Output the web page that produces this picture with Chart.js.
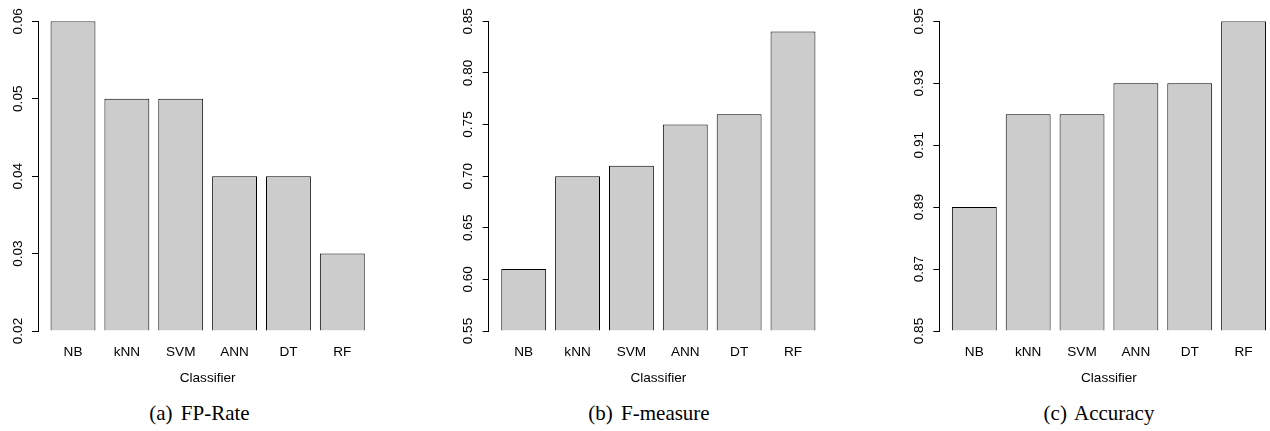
<!DOCTYPE html>
<html>
<head>
<meta charset="utf-8">
<script src="https://cdn.jsdelivr.net/npm/chart.js@4.4.1/dist/chart.umd.min.js"></script>
<style>
  html, body { margin:0; padding:0; background:#fff; overflow:hidden; width:1270px; height:431px; }
  .panel { position:absolute; top:0; width:400px; height:400px; }
  .cap { position:absolute; top:403px; font-family:"Liberation Serif","Times New Roman",serif; font-size:21px; line-height:1; color:#000; white-space:nowrap; transform:translateX(-50%); word-spacing:3px; }
</style>
</head>
<body>
<div class="panel" style="left:0px"><canvas id="ca" width="400" height="400"></canvas></div>
<div class="panel" style="left:450px"><canvas id="cb" width="400" height="400"></canvas></div>
<div class="panel" style="left:901px"><canvas id="cc" width="400" height="400"></canvas></div>
<div class="cap" id="capA" style="left:199.5px"></div>
<div class="cap" id="capB" style="left:649px"></div>
<div class="cap" id="capC" style="left:1099px"></div>
<script>
// ---- data ----
const categories = ["NB", "kNN", "SVM", "ANN", "DT", "RF"];
const xTitle = "Classifier";

const fpRate   = [0.06, 0.05, 0.05, 0.04, 0.04, 0.03];
const fMeasure = [0.61, 0.70, 0.71, 0.75, 0.76, 0.84];
const accuracy = [0.89, 0.92, 0.92, 0.93, 0.93, 0.95];

const fpTicks       = [0.02, 0.03, 0.04, 0.05, 0.06];
const fpTickLabels  = ["0.02", "0.03", "0.04", "0.05", "0.06"];
const fmTicks       = [0.55, 0.60, 0.65, 0.70, 0.75, 0.80, 0.85];
const fmTickLabels  = ["0.55", "0.60", "0.65", "0.70", "0.75", "0.80", "0.85"];
const accTicks      = [0.85, 0.87, 0.89, 0.91, 0.93, 0.95];
const accTickLabels = ["0.85", "0.87", "0.89", "0.91", "0.93", "0.95"];

const captions = ["(a) FP-Rate", "(b) F-measure", "(c) Accuracy"];

// ---- drawing ----
const sansFont = { family: "'Liberation Sans', Arial, Helvetica, sans-serif", size: 13.6 };
const X_MIN = -0.65, X_MAX = 5.65;
const PLOT_W = 339.3;

function makeChart(id, values, ticks, tickLabels, axisWidth) {
  const ctx = document.getElementById(id);
  return new Chart(ctx, {
    type: 'bar',
    data: {
      datasets: [{
        data: values.map((v, i) => ({ x: i, y: v })),
        backgroundColor: '#cccccc',
        borderColor: '#000000',
        borderWidth: 1,
        borderSkipped: 'bottom',
        base: ticks[0],
        barPercentage: 0.8333,
        categoryPercentage: 1.0
      }]
    },
    options: {
      responsive: false,
      animation: false,
      devicePixelRatio: 1,
      layout: { padding: { top: 21.3, left: 0, bottom: 0, right: 400 - axisWidth - PLOT_W } },
      plugins: { legend: { display: false }, tooltip: { enabled: false } },
      scales: {
        x: {
          type: 'linear',
          offset: false,
          min: X_MIN, max: X_MAX,
          grid: { display: false, offset: false },
          border: { display: false },
          afterBuildTicks: s => { s.ticks = categories.map((_, i) => ({ value: i })); },
          ticks: {
            autoSkip: false, maxRotation: 0, minRotation: 0,
            padding: 5.5, color: '#000', font: sansFont,
            callback: v => categories[v]
          },
          title: { display: true, text: xTitle, color: '#000', font: sansFont, padding: { top: 0, bottom: 13.4 } },
          afterFit: s => { s.height = 69; }
        },
        y: {
          min: ticks[0], max: ticks[ticks.length - 1],
          afterBuildTicks: s => { s.ticks = ticks.map(v => ({ value: v })); },
          ticks: {
            minRotation: 90, maxRotation: 90, crossAlign: 'center',
            padding: 1, color: '#000', font: sansFont,
            callback: (v, i) => tickLabels[i]
          },
          grid: { display: true, drawOnChartArea: false, drawTicks: true, tickLength: 6, color: '#000', lineWidth: 1 },
          border: { display: true, color: '#000', width: 1 },
          afterFit: s => { s.width = axisWidth; }
        }
      }
    }
  });
}

makeChart('ca', fpRate,   fpTicks,  fpTickLabels,  38.0);
makeChart('cb', fMeasure, fmTicks,  fmTickLabels,  38.7);
makeChart('cc', accuracy, accTicks, accTickLabels, 38.3);

document.getElementById('capA').textContent = captions[0];
document.getElementById('capB').textContent = captions[1];
document.getElementById('capC').textContent = captions[2];
</script>
</body>
</html>
